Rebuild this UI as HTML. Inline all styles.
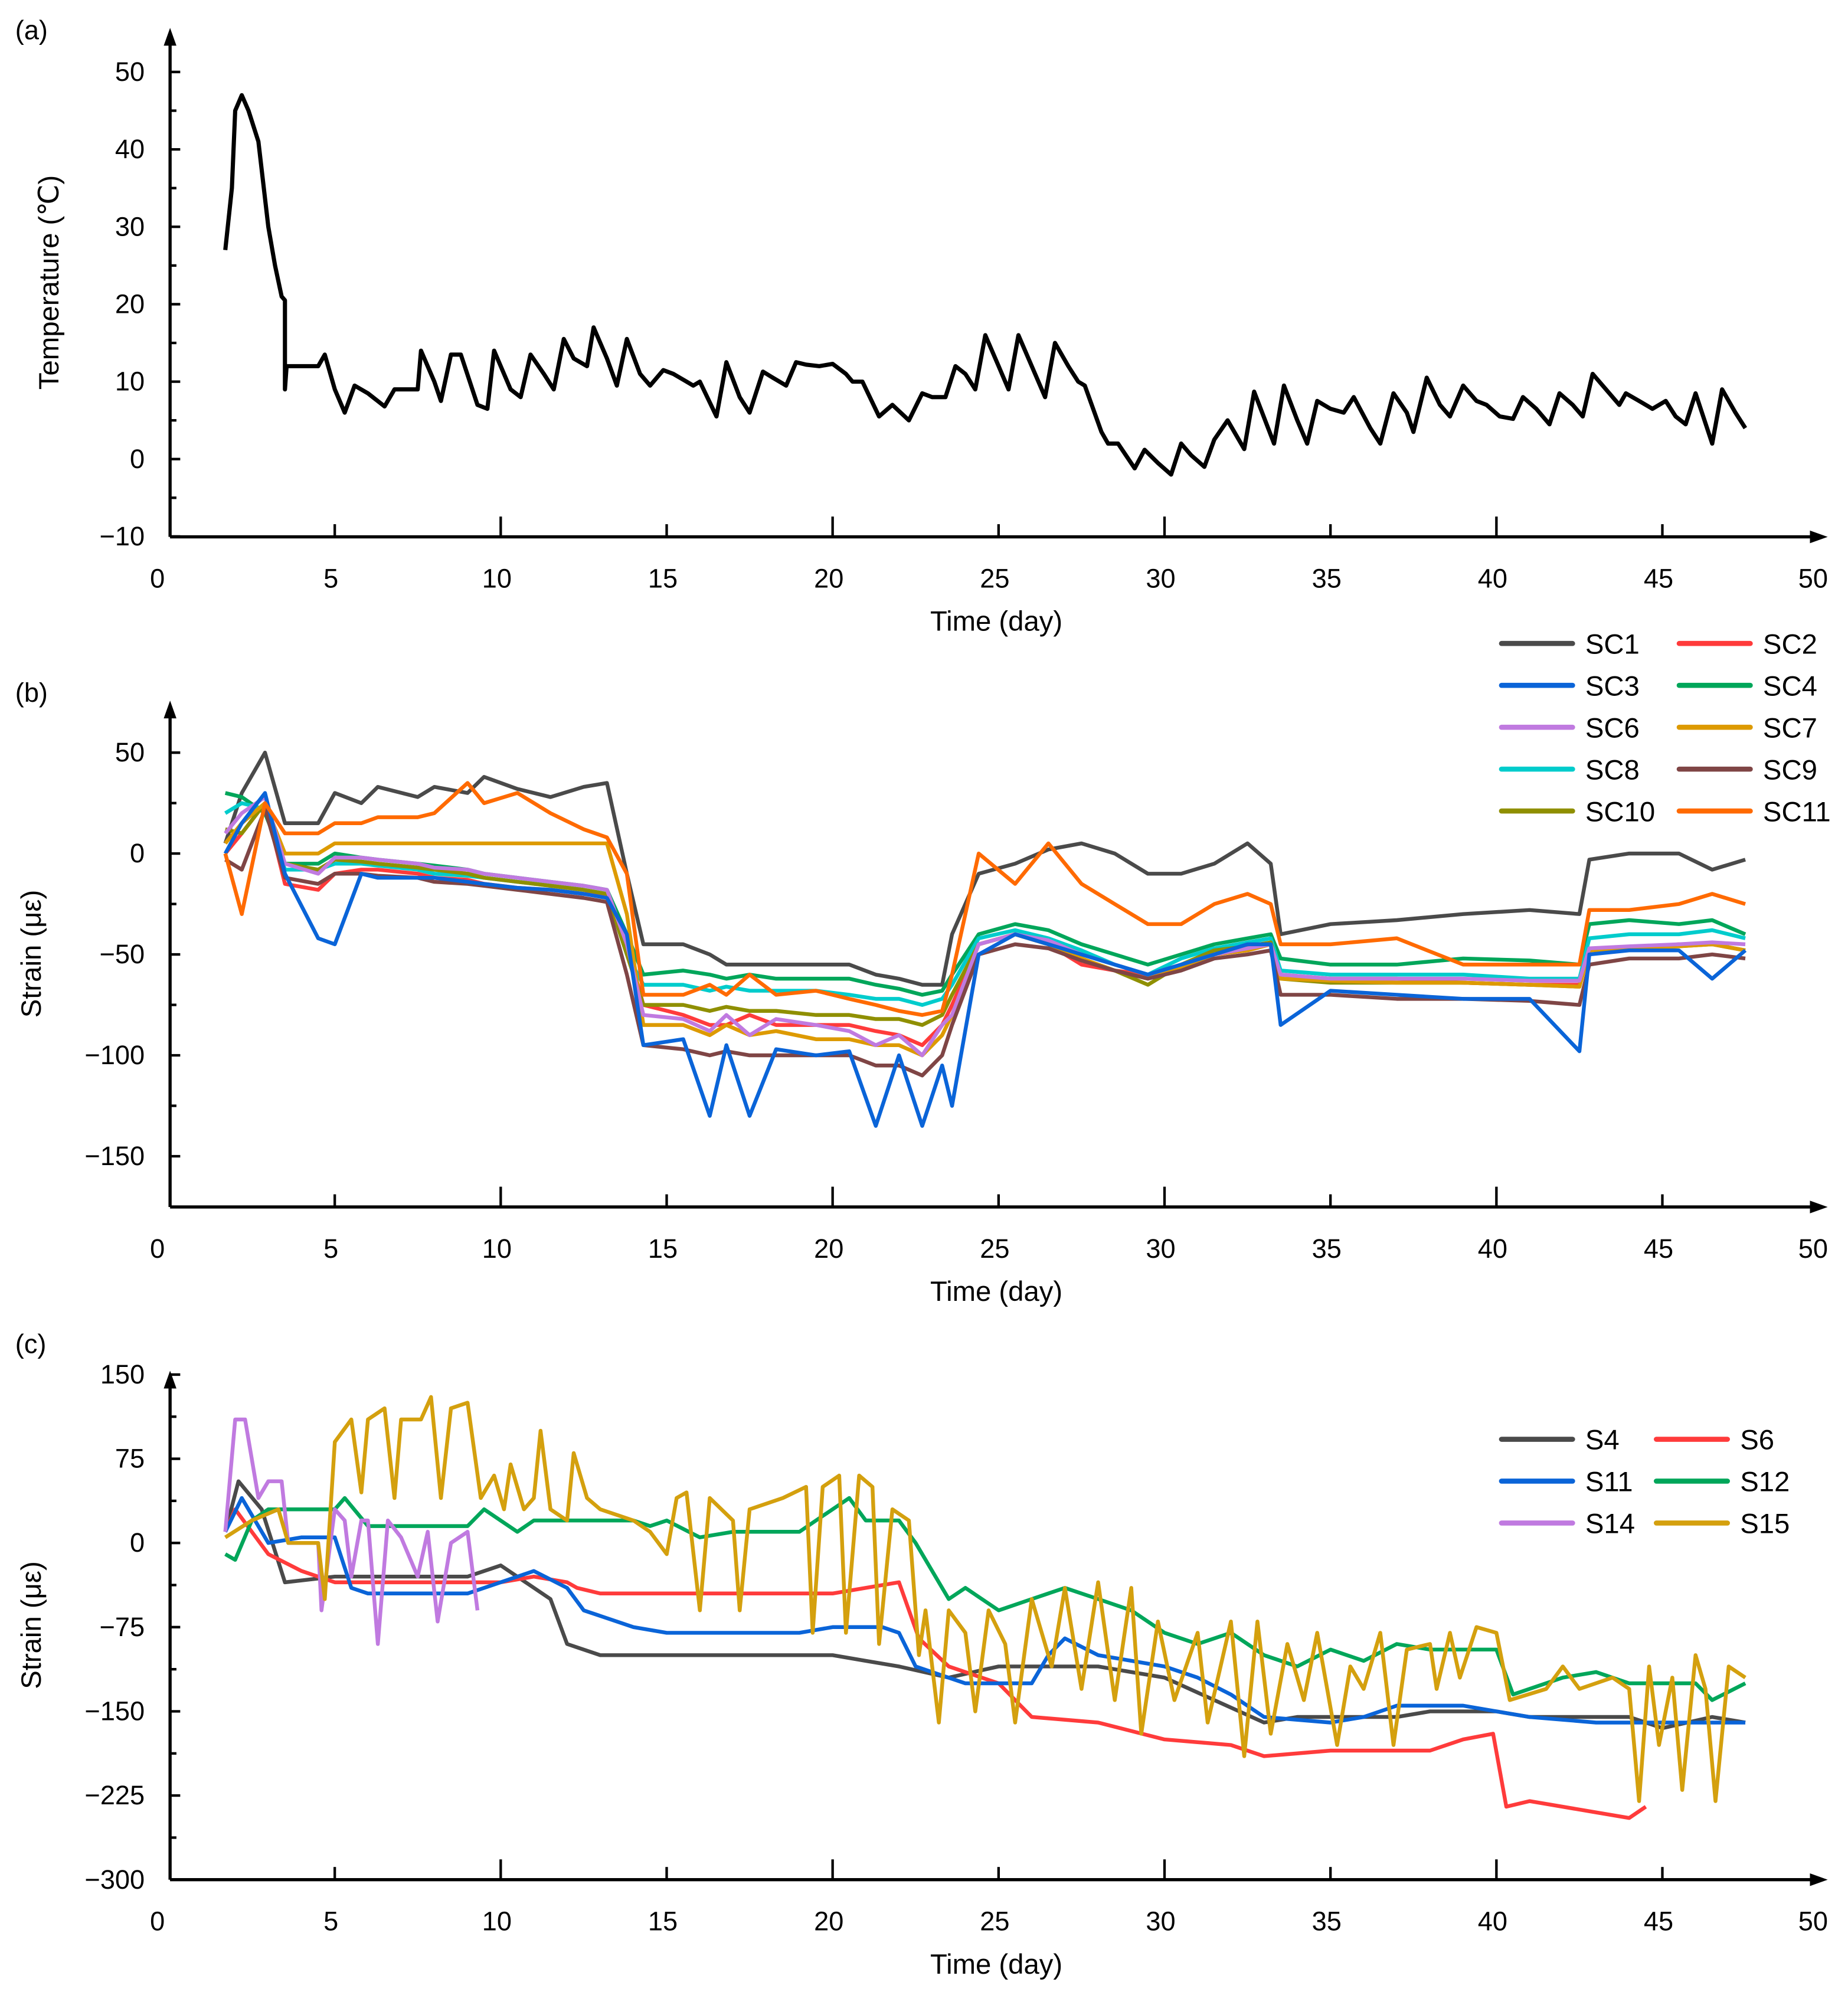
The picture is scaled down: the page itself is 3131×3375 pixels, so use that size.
<!DOCTYPE html>
<html><head><meta charset="utf-8"><style>
html,body{margin:0;padding:0;background:#fff}
svg{display:block}
text{font-family:"Liberation Sans",Arial,sans-serif;fill:#000}
</style></head><body>
<svg id="fig" width="3131" height="3375" viewBox="0 0 1456 1569.5" preserveAspectRatio="none" xmlns="http://www.w3.org/2000/svg"></svg>
<script>
// ---------- Panel (a) data ----------
const tempDays=[1.7,1.9,2.0,2.2,2.4,2.7,3.0,3.2,3.4,3.5,3.5,3.55,4.5,4.7,5.0,5.3,5.6,6.0,6.5,6.8,7.5,7.6,8.0,8.2,8.5,8.8,9.3,9.6,9.8,10.3,10.6,10.9,11.3,11.6,11.9,12.2,12.6,12.8,13.2,13.5,13.8,14.2,14.5,14.9,15.2,15.6,15.8,16.0,16.5,16.8,17.2,17.5,17.9,18.2,18.6,18.9,19.2,19.6,20.0,20.4,20.6,20.9,21.4,21.8,22.3,22.7,23.0,23.4,23.7,24.0,24.3,24.6,25.0,25.3,25.6,26.0,26.4,26.7,27.1,27.4,27.6,28.1,28.3,28.6,29.1,29.4,29.8,30.2,30.5,30.8,31.2,31.5,31.9,32.4,32.7,33.3,33.6,34.0,34.3,34.6,35.0,35.4,35.7,36.2,36.5,36.9,37.3,37.5,37.9,38.3,38.6,39.0,39.4,39.7,40.1,40.5,40.8,41.2,41.6,41.9,42.3,42.6,42.9,43.3,43.7,43.9,44.3,44.7,45.1,45.4,45.7,46.0,46.5,46.8,47.2,47.5];
const tempVals=[27,35,45,47,45,41,30,25,21,20.5,9,12,12,13.5,9,6,9.5,8.5,6.8,9,9,14,10,7.5,13.5,13.5,7,6.5,14,9,8,13.5,11,9,15.5,13,12,17,13,9.5,15.5,11,9.5,11.5,11,10,9.5,10,5.5,12.5,8,6,11.3,10.5,9.5,12.5,12.2,12,12.3,11,10,10,5.5,7,5,8.5,8,8,12,11,9,16,12,9,16,12,8,15,12,10,9.5,3.5,2,2,-1.2,1.2,-0.5,-2,2,0.5,-1,2.5,5,1.3,8.7,2,9.5,5,2,7.5,6.5,6,8,4,2,8.5,6,3.5,10.5,7,5.5,9.5,7.5,7,5.5,5.2,8,6.5,4.5,8.5,7,5.5,11,9,7,8.5,7.5,6.5,7.5,5.5,4.5,8.5,2,9,6,4];
const ticksA=[50,40,30,20,10,0,-10];

// ---------- Panel (b) data ----------
const daysB=[1.7,2.2,2.9,3.5,4.5,5.0,5.8,6.3,7.5,8.0,9.0,9.5,10.5,11.5,12.5,13.2,13.8,14.3,15.5,16.3,16.8,17.5,18.3,19.5,20.5,21.3,22.0,22.7,23.3,23.6,24.4,25.5,26.5,27.5,28.5,29.5,30.5,31.5,32.5,33.2,33.5,35.0,37.0,39.0,41.0,42.5,42.8,44.0,45.5,46.5,47.5];
const sc1=[5,30,50,15,15,30,25,33,28,33,30,38,32,28,33,35,-10,-45,-45,-50,-55,-55,-55,-55,-55,-60,-62,-65,-65,-40,-10,-5,2,5,0,-10,-10,-5,5,-5,-40,-35,-33,-30,-28,-30,-3,0,0,-8,-3];
const sc2=[0,10,25,-15,-18,-10,-8,-8,-10,-12,-13,-15,-17,-18,-20,-20,-45,-75,-80,-85,-85,-80,-85,-85,-85,-88,-90,-95,-85,-75,-45,-40,-45,-55,-58,-60,-55,-50,-48,-45,-60,-62,-62,-64,-65,-65,-48,-47,-45,-45,-48];
const sc3=[0,15,30,-10,-42,-45,-10,-12,-12,-12,-14,-15,-17,-18,-20,-22,-40,-95,-92,-130,-95,-130,-97,-100,-98,-135,-100,-135,-105,-125,-50,-40,-45,-50,-55,-60,-55,-50,-45,-45,-85,-68,-70,-72,-72,-98,-50,-48,-48,-62,-48];
const sc4=[30,28,20,-5,-5,0,-2,-3,-5,-6,-8,-10,-12,-14,-16,-18,-40,-60,-58,-60,-62,-60,-62,-62,-62,-65,-67,-70,-68,-60,-40,-35,-38,-45,-50,-55,-50,-45,-42,-40,-52,-55,-55,-52,-53,-55,-35,-33,-35,-33,-40];
const sc6=[10,20,28,-5,-10,-2,-2,-3,-5,-7,-8,-10,-12,-14,-16,-18,-45,-80,-82,-88,-80,-90,-82,-85,-88,-95,-90,-100,-85,-80,-45,-40,-43,-50,-55,-60,-55,-50,-47,-45,-60,-62,-62,-62,-63,-63,-47,-46,-45,-44,-45];
const sc7=[5,15,25,0,0,5,5,5,5,5,5,5,5,5,5,5,-30,-85,-85,-90,-85,-90,-88,-92,-92,-95,-95,-100,-90,-80,-45,-40,-45,-52,-58,-62,-57,-50,-48,-45,-62,-63,-64,-64,-65,-66,-48,-47,-46,-45,-48];
const sc8=[20,25,22,-8,-8,-5,-5,-6,-8,-10,-11,-12,-14,-16,-18,-20,-50,-65,-65,-68,-66,-68,-68,-68,-70,-72,-72,-75,-72,-65,-42,-38,-42,-48,-55,-60,-52,-47,-44,-42,-58,-60,-60,-60,-62,-62,-42,-40,-40,-38,-42];
const sc9=[-3,-8,22,-12,-15,-10,-10,-11,-12,-14,-15,-16,-18,-20,-22,-24,-60,-95,-97,-100,-98,-100,-100,-100,-100,-105,-105,-110,-100,-85,-50,-45,-47,-53,-58,-62,-58,-52,-50,-48,-70,-70,-72,-72,-73,-75,-55,-52,-52,-50,-52];
const sc10=[12,10,25,-5,-8,-3,-4,-5,-7,-8,-10,-12,-14,-16,-18,-20,-50,-75,-75,-78,-76,-78,-78,-80,-80,-82,-82,-85,-80,-70,-45,-40,-45,-52,-58,-65,-55,-48,-46,-44,-62,-64,-64,-64,-65,-66,-48,-47,-46,-45,-48];
const sc11=[0,-30,25,10,10,15,15,18,18,20,35,25,30,20,12,8,-10,-70,-70,-65,-70,-60,-70,-68,-72,-75,-78,-80,-78,-60,0,-15,5,-15,-25,-35,-35,-25,-20,-25,-45,-45,-42,-55,-55,-55,-28,-28,-25,-20,-25];
const ticksB=[50,0,-50,-100,-150];

// ---------- Panel (c) data ----------
const s4Days=[1.7,2.1,2.8,3.5,5,9,10,11.5,12,13,20,21,22,23.5,25,28,29,30,31.5,33,34,37,38,40,41,44,45,46.5,47.5];
const s4Vals=[10,55,30,-35,-30,-30,-20,-50,-90,-100,-100,-105,-110,-120,-110,-110,-115,-120,-140,-160,-155,-155,-150,-150,-155,-155,-165,-155,-160];
const s6Days=[1.7,2,3,4,5,10,11,12,12.3,13,20,21,22,22.6,23.5,25,26,28,30,32,33,35,38,39,39.9,40.3,41,43,44,44.5];
const s6Vals=[10,30,-10,-25,-35,-35,-30,-35,-40,-45,-45,-40,-35,-85,-110,-125,-155,-160,-175,-180,-190,-185,-185,-175,-170,-235,-230,-240,-245,-235];
const s11Days=[1.7,2.2,3,4,5,5.5,6,9,10,11,12,12.5,14,15,19,20,21.5,22,22.5,24,26,26.5,27,28,30,31,32,33,35,36,37,39,40,41,43,47.5];
const s11Vals=[10,40,0,5,5,-40,-45,-45,-35,-25,-40,-60,-75,-80,-80,-75,-75,-80,-110,-125,-125,-100,-85,-100,-110,-120,-135,-155,-160,-155,-145,-145,-150,-155,-160,-160];
const s12Days=[1.7,2,2.5,3,5,5.3,6,7,9,9.5,10.5,11,14,14.5,15,16,17,19,19.5,20.5,21,22,22.5,23.5,24,25,26,27,28,29,30,31,32,33,34,35,36,37,38,40,40.5,42,43,44,46,46.5,47.5];
const s12Vals=[-10,-15,20,30,30,40,15,15,15,30,10,20,20,15,20,5,10,10,20,40,20,20,0,-50,-40,-60,-50,-40,-50,-60,-80,-90,-80,-100,-110,-95,-105,-90,-95,-95,-135,-120,-115,-125,-125,-140,-125];
const s14Days=[1.7,2,2.3,2.7,3,3.4,3.6,4.5,4.6,5,5.3,5.5,5.8,6,6.3,6.6,7,7.5,7.8,8.1,8.5,9,9.3];
const s14Vals=[10,110,110,40,55,55,0,0,-60,30,20,-30,20,20,-90,20,5,-30,10,-70,0,10,-60];
const s15Days=[1.7,2.5,3.3,3.6,4.5,4.7,5,5.5,5.8,6,6.5,6.8,7,7.6,7.9,8.2,8.5,9,9.4,9.8,10.1,10.3,10.7,11,11.2,11.5,12,12.2,12.6,13,14,14.5,15,15.3,15.6,16,16.3,17,17.2,17.5,18.5,19.2,19.4,19.7,20.2,20.4,20.8,21.2,21.4,21.8,22.3,22.6,22.8,23.2,23.5,24,24.3,24.7,25.2,25.5,26,26.6,27,27.5,28,28.5,29,29.3,29.8,30.3,31,31.3,32,32.4,32.8,33.2,33.7,34.2,34.6,35.2,35.6,36,36.5,36.9,37.3,38,38.2,38.6,38.9,39.4,40,40.4,41.5,42,42.5,43.5,44,44.3,44.6,44.9,45.3,45.6,46,46.3,46.6,47,47.5];
const s15Vals=[5,20,30,0,0,-50,90,110,45,110,120,40,110,110,130,40,120,125,40,60,30,70,30,40,100,30,20,80,40,30,20,10,-10,40,45,-60,40,20,-60,30,40,50,-80,50,60,-80,60,50,-90,30,20,-100,-60,-160,-60,-80,-150,-60,-90,-160,-50,-110,-40,-130,-35,-140,-40,-170,-70,-140,-80,-160,-70,-190,-70,-170,-90,-140,-80,-180,-110,-130,-80,-180,-95,-90,-130,-80,-120,-75,-80,-140,-130,-110,-130,-120,-130,-230,-110,-180,-120,-220,-100,-130,-230,-110,-120];
const ticksC=[150,75,0,-75,-150,-225,-300];
const xTicks=[0,5,10,15,20,25,30,35,40,45,50];

const NS="http://www.w3.org/2000/svg";
const svg=document.getElementById('fig');
function el(tag,attrs,parent){const e=document.createElementNS(NS,tag);for(const k in attrs)e.setAttribute(k,attrs[k]);(parent||svg).appendChild(e);return e;}
const X=d=>133+d*26.15;
const AXL=134, AXR=1440;

function panel(name,letter,letterY,yTop,yAxisY,Y,ticks,minorTicks,yTitle){
  const g=el('g',{});
  
  
  const lt=el('text',{x:12,y:letterY,'font-size':21},g);lt.textContent='('+letter+')';
  
  
  const ya=el('line',{x1:AXL,y1:yAxisY,x2:AXL,y2:yTop+10,stroke:'#000','stroke-width':2.5},g);
  
  
  el('polygon',{points:`${AXL-5},${yTop+14} ${AXL+5},${yTop+14} ${AXL},${yTop}`,fill:'#000'},g);
  const xa=el('line',{x1:AXL,y1:yAxisY,x2:AXR-12,y2:yAxisY,stroke:'#000','stroke-width':2.5},g);
  
  
  el('polygon',{points:`${AXR-14},${yAxisY-5} ${AXR-14},${yAxisY+5} ${AXR},${yAxisY}`,fill:'#000'},g);
  ticks.forEach(v=>{
    const y=Y(v);
    el('line',{x1:AXL,y1:y,x2:AXL+8,y2:y,stroke:'#000','stroke-width':2},g);
    const t=el('text',{x:AXL-20,y:y+7,'font-size':21,'text-anchor':'end'},g);
    t.textContent=v<0?'\u2212'+(-v):String(v);
    
    
  });
  minorTicks.forEach(v=>{const y=Y(v);el('line',{x1:AXL,y1:y,x2:AXL+5,y2:y,stroke:'#000','stroke-width':2},g);});
  xTicks.forEach(d=>{
    const x=X(d);
    if(d>0&&d<50){const major=d%10===0;el('line',{x1:x,y1:yAxisY,x2:x,y2:yAxisY-(major?16:10),stroke:'#000','stroke-width':2},g);}
    const off=d===0?-9:(d===50?-12:-3);
    const t=el('text',{x:x+off,y:yAxisY+40,'font-size':21,'text-anchor':'middle'},g);
    t.textContent=String(d);
    
    
  });
  const xt=el('text',{x:785,y:yAxisY+74,'font-size':22,'text-anchor':'middle'},g);
  xt.textContent='Time (day)';
  
  
  const cy=(yTop+yAxisY)/2+yTitle[1];
  const yt=el('text',{x:0,y:0,'font-size':22,'text-anchor':'middle',transform:`translate(${yTitle[0]},${cy}) rotate(-90)`},g);
  yt.textContent=yTitle[2];
  
  
  return g;
}
function series(g,days,vals,Y,color,name,w){
  let d='';
  for(let i=0;i<days.length;i++){d+=(i?'L':'M')+X(days[i]).toFixed(1)+','+Y(vals[i]).toFixed(1);}
  const p=el('path',{d:d,fill:'none',stroke:color,'stroke-width':w||3,'stroke-linejoin':'round'},g);
  
  
}
function legend(g,items,x0,y0,dy,colX){
  items.forEach((it,i)=>{
    const r=Math.floor(i/2),c=i%2;
    const x=x0+colX[c],y=y0+r*dy;
    const lg=el('g',{},g);
    
    
    el('line',{x1:x,y1:y,x2:x+56,y2:y,stroke:it[1],'stroke-width':4,'stroke-linecap':'round'},lg);
    const t=el('text',{x:x+66,y:y+8,'font-size':22},lg);t.textContent=it[0];
  });
}

const YA=v=>361.7-v*6.1;
const gA=panel('temperature-panel','a',31,22,423,YA,ticksA,[45,35,25,15,5,-5],[46,0,'Temperature (\u2103)']);
series(gA,tempDays,tempVals,YA,'#000','temperature-line',3.3);

const YB=v=>672.5-v*1.59;
const gB=panel('strain-sc-panel','b',553,552,951,YB,ticksB,[25,-25,-75,-125],[32,0,'Strain (\u03bc\u03b5)']);
const bSeries=[['SC1',sc1,'#4a4a4a'],['SC2',sc2,'#ff3b3b'],['SC4',sc4,'#00a65a'],['SC8',sc8,'#00cccc'],['SC10',sc10,'#8f8f00'],['SC7',sc7,'#dd9a00'],['SC6',sc6,'#c07ae0'],['SC9',sc9,'#7f4545'],['SC3',sc3,'#0a64d8'],['SC11',sc11,'#ff6a00']];
bSeries.forEach(s=>series(gB,daysB,s[1],YB,s[2],'series-'+s[0].toLowerCase()));
legend(gB,[['SC1','#4a4a4a'],['SC2','#ff3b3b'],['SC3','#0a64d8'],['SC4','#00a65a'],['SC6','#c07ae0'],['SC7','#dd9a00'],['SC8','#00cccc'],['SC9','#7f4545'],['SC10','#8f8f00'],['SC11','#ff6a00']],1183,507,33,[0,140]);

const YC=v=>1215.7-v*0.8844;
const gC=panel('strain-s-panel','c',1066,1080,1481,YC,ticksC,[112.5,37.5,-37.5,-112.5,-187.5,-262.5],[32,0,'Strain (\u03bc\u03b5)']);
series(gC,s4Days,s4Vals,YC,'#4a4a4a','series-s4');
series(gC,s6Days,s6Vals,YC,'#ff3b3b','series-s6');
series(gC,s11Days,s11Vals,YC,'#0a64d8','series-s11');
series(gC,s12Days,s12Vals,YC,'#00a65a','series-s12');
series(gC,s14Days,s14Vals,YC,'#c07ae0','series-s14');
series(gC,s15Days,s15Vals,YC,'#d4a00e','series-s15');
legend(gC,[['S4','#4a4a4a'],['S6','#ff3b3b'],['S11','#0a64d8'],['S12','#00a65a'],['S14','#c07ae0'],['S15','#d4a00e']],1183,1134,33,[0,122]);
</script>
</body></html>
